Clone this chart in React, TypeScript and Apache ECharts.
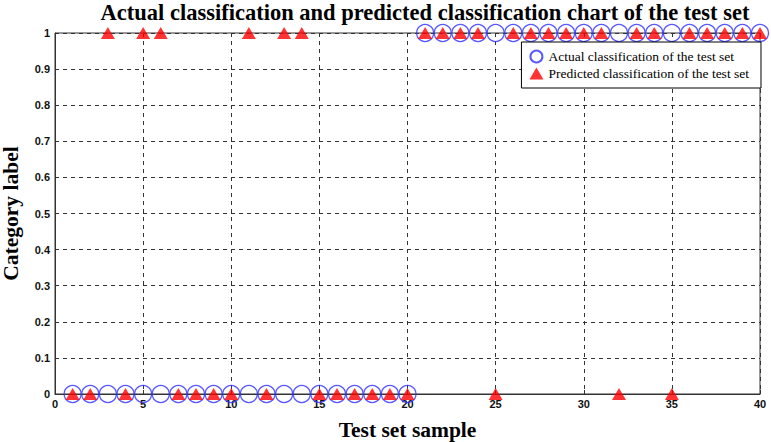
import React, { useEffect, useRef } from "react";
import * as echarts from "echarts";

const samples = Array.from({ length: 40 }, (_, i) => i + 1);
const actualLabels = [
  0, 0, 0, 0, 0, 0, 0, 0, 0, 0,
  0, 0, 0, 0, 0, 0, 0, 0, 0, 0,
  1, 1, 1, 1, 1, 1, 1, 1, 1, 1,
  1, 1, 1, 1, 1, 1, 1, 1, 1, 1,
];
const predictedLabels = [
  0, 0, 1, 0, 1, 1, 0, 0, 0, 0,
  1, 0, 1, 1, 0, 0, 0, 0, 0, 0,
  1, 1, 1, 1, 0, 1, 1, 1, 1, 1,
  1, 0, 1, 1, 0, 1, 1, 1, 1, 1,
];
const xTicks = [0, 5, 10, 15, 20, 25, 30, 35, 40];

const serif = "'Liberation Serif', 'Times New Roman', serif";
const sans = "'Liberation Sans', Arial, sans-serif";

export default function App() {
  const ref = useRef<HTMLDivElement>(null);
  useEffect(() => {
    if (!ref.current) return;
    const chart = echarts.init(ref.current, undefined, { renderer: "svg" });
    chart.setOption({
      animation: false,
      backgroundColor: "#fff",
      title: {
        text: "Actual classification and predicted classification chart of the test set",
        left: 420,
        textAlign: "center",
        top: -4,
        textStyle: { fontFamily: serif, fontWeight: "bold", fontSize: 22.5, color: "#000" },
      },
      legend: {
        orient: "vertical",
        right: 10,
        top: 42,
        backgroundColor: "#fff",
        borderColor: "#000",
        borderWidth: 1,
        borderRadius: 0,
        padding: [7, 12, 7, 8],
        itemGap: 2,
        itemWidth: 14,
        itemHeight: 12,
        textStyle: { fontFamily: serif, fontSize: 13.5, lineHeight: 15, color: "#000" },
        data: [
          { name: "Actual classification of the test set", icon: "circle" },
          { name: "Predicted classification of the test set", icon: "triangle" },
        ],
      },
      grid: {
        left: 55,
        right: 11,
        top: 33,
        bottom: 48,
        show: true,
        borderColor: "#333",
        borderWidth: 1,
        outerBoundsMode: "none",
        containLabel: false,
      },
      xAxis: {
        type: "value",
        min: 0,
        max: 40,
        interval: 5,
        name: "Test set sample",
        nameLocation: "middle",
        nameGap: 25,
        nameTextStyle: { fontFamily: serif, fontWeight: "bold", fontSize: 21.5, color: "#000" },
        axisLine: { show: true, lineStyle: { color: "#333" } },
        axisTick: { show: true, inside: true, length: 4, lineStyle: { color: "#333" } },
        axisLabel: {
          fontFamily: sans,
          fontWeight: "bold",
          fontSize: 11,
          color: "#111",
          margin: 4,
          customValues: xTicks,
        },
        splitLine: { show: true, lineStyle: { color: "#333", type: [4, 4], width: 1 } },
      },
      yAxis: {
        type: "value",
        min: 0,
        max: 1,
        interval: 0.1,
        name: "Category label",
        nameLocation: "middle",
        nameGap: 33,
        nameTextStyle: { fontFamily: serif, fontWeight: "bold", fontSize: 21.5, color: "#000" },
        axisLine: { show: true, lineStyle: { color: "#333" } },
        axisTick: { show: true, inside: true, length: 4, lineStyle: { color: "#333" } },
        axisLabel: {
          fontFamily: sans,
          fontWeight: "bold",
          fontSize: 11,
          color: "#111",
          margin: 5,
          formatter: (v: number) => String(Math.round(v * 10) / 10),
        },
        splitLine: { show: true, lineStyle: { color: "#333", type: [4, 4], width: 1 } },
      },
      series: [
        {
          name: "Actual classification of the test set",
          type: "scatter",
          clip: false,
          symbol: "circle",
          symbolSize: 17,
          itemStyle: { color: "rgba(255,255,255,0)", borderColor: "#2f2fff", borderWidth: 1.3 },
          data: samples.map((s, i) => [s, actualLabels[i]]),
          z: 3,
        },
        {
          name: "Predicted classification of the test set",
          type: "scatter",
          clip: false,
          symbol: "triangle",
          symbolSize: [14, 12],
          itemStyle: { color: "#ff0000" },
          data: samples.map((s, i) => [s, predictedLabels[i]]),
          z: 4,
        },
      ],
    });
    return () => chart.dispose();
  }, []);
  return <div ref={ref} style={{ width: 771, height: 442, position: "absolute", left: 0, top: 0 }} />;
}
